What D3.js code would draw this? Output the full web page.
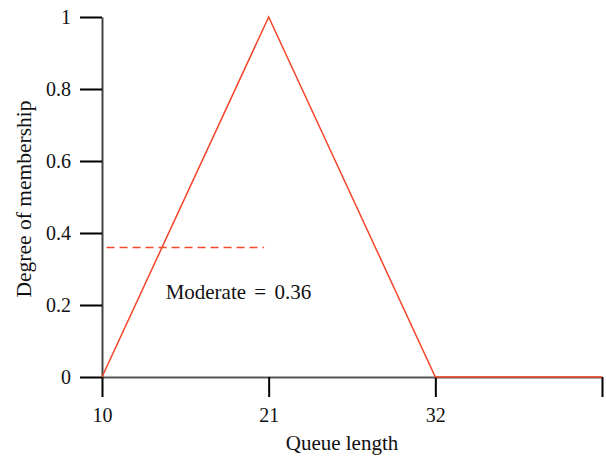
<!DOCTYPE html>
<html>
<head>
<meta charset="utf-8">
<script src="https://cdn.jsdelivr.net/npm/d3@7"></script>
<style>
  html, body { margin: 0; padding: 0; background: #fff; }
  svg { display: block; }
  text { font-family: "Liberation Serif", "DejaVu Serif", serif; fill: #111; }
</style>
</head>
<body>
<svg id="chart" width="606" height="457"></svg>
<script>
// Data
const xPoints = [10, 21, 32, 43];
const yPoints = [0, 1, 0, 0];
const xTickValues = [10, 21, 32, 43];
const xTickLabels = ["10", "21", "32", ""];
const yTickValues = [0, 0.2, 0.4, 0.6, 0.8, 1];
const yTickLabels = ["0", "0.2", "0.4", "0.6", "0.8", "1"];
const membershipValue = [0.36];
const dashedRange = [10.3, 20.7];
const annotationText = ["Moderate = 0.36"];
const annotationPos = [14.2, 0.23];

const svg = d3.select("#chart");
const margin = {left: 102, right: 4, top: 17, bottom: 80};
const W = 606, H = 457;

const x = d3.scaleLinear().domain([10, 43]).range([margin.left, W - margin.right]);
const y = d3.scaleLinear().domain([0, 1]).range([H - margin.bottom, margin.top]);

// X axis
const xAxis = d3.axisBottom(x)
  .tickValues(xTickValues)
  .tickFormat((d, i) => xTickLabels[i])
  .tickSize(20)
  .tickSizeOuter(0)
  .tickPadding(11);
const gx = svg.append("g").attr("transform", `translate(0,${y(0)})`).call(xAxis);
gx.select(".domain").attr("stroke", "#555").attr("stroke-width", 2);
gx.selectAll(".tick line").attr("stroke", "#000").attr("stroke-width", 2);
gx.selectAll(".tick text").attr("font-size", 20).attr("font-family", "Liberation Serif").attr("fill", "#111");

// Y axis
const yAxis = d3.axisLeft(y)
  .tickValues(yTickValues)
  .tickFormat((d, i) => yTickLabels[i])
  .tickSize(22)
  .tickSizeOuter(0)
  .tickPadding(9);
const gy = svg.append("g").attr("transform", `translate(${x(10)},0)`).call(yAxis);
gy.select(".domain").attr("stroke", "#444").attr("stroke-width", 2);
gy.selectAll(".tick line").attr("stroke", "#000").attr("stroke-width", 2);
gy.selectAll(".tick text").attr("font-size", 20).attr("font-family", "Liberation Serif").attr("fill", "#111");

// Membership function line
const line = d3.line().x((d, i) => x(xPoints[i])).y((d, i) => y(yPoints[i]));
svg.append("path")
  .datum(xPoints)
  .attr("d", line)
  .attr("fill", "none")
  .attr("stroke", "#f4452a")
  .attr("stroke-width", 1.5);

// Dashed membership level
svg.append("line")
  .attr("x1", x(dashedRange[0])).attr("x2", x(dashedRange[1]))
  .attr("y1", y(membershipValue[0])).attr("y2", y(membershipValue[0]))
  .attr("stroke", "#f24a2c")
  .attr("stroke-width", 1.5)
  .attr("stroke-dasharray", "8,5");

// Annotation
svg.append("text")
  .attr("x", x(annotationPos[0])).attr("y", y(annotationPos[1]))
  .attr("font-size", 21)
  .attr("word-spacing", 3)
  .attr("dominant-baseline", "middle")
  .text(annotationText[0]);

// Axis titles
svg.append("text")
  .attr("x", 342).attr("y", 450)
  .attr("text-anchor", "middle")
  .attr("font-size", 21)
  .text("Queue length");

svg.append("text")
  .attr("transform", "translate(31,199) rotate(-90)")
  .attr("text-anchor", "middle")
  .attr("font-size", 21.5)
  .text("Degree of membership");
</script>
</body>
</html>
